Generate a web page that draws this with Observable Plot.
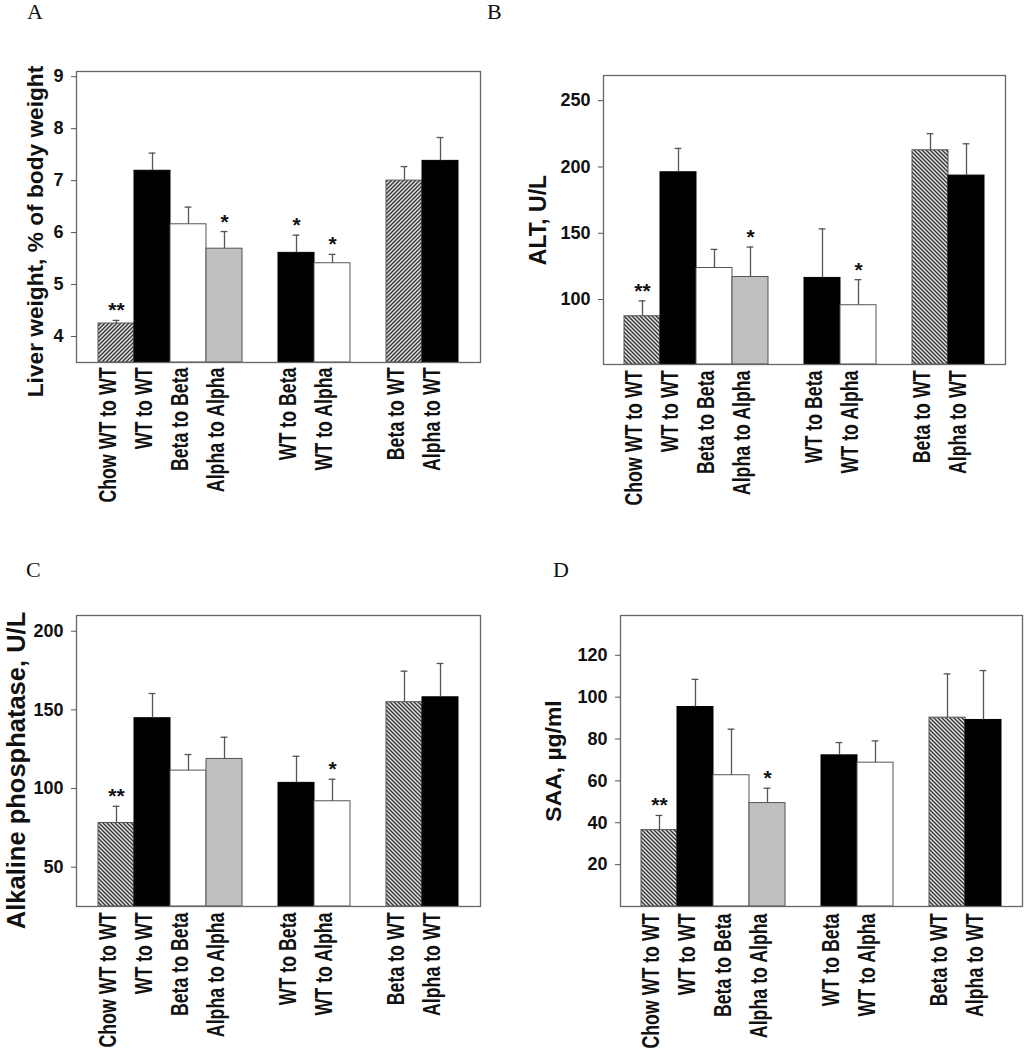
<!DOCTYPE html>
<html>
<head>
<meta charset="utf-8">
<script src="https://cdn.jsdelivr.net/npm/d3@7"></script>
<script src="https://cdn.jsdelivr.net/npm/@observablehq/plot@0.6"></script>
<style>
  html, body { margin: 0; padding: 0; background: #fff; }
  #root { position: relative; width: 1026px; height: 1050px; background: #fff; overflow: hidden; }
  .panel { position: absolute; }
  .letter { position: absolute; font-family: "Liberation Serif", "Times New Roman", serif; font-size: 22px; line-height: 20px; color: #111; }
</style>
</head>
<body>
<div id="root">
  <svg width="0" height="0" style="position:absolute">
    <defs>
      <pattern id="hatchUp" patternUnits="userSpaceOnUse" width="4" height="4">
        <rect width="4" height="4" fill="#e0e0e0"></rect>
        <path d="M-1,1 l2,-2 M0,4 l4,-4 M3,5 l2,-2" stroke="#333" stroke-width="1.3"></path>
      </pattern>
      <pattern id="hatchDown" patternUnits="userSpaceOnUse" width="4" height="4">
        <rect width="4" height="4" fill="#e0e0e0"></rect>
        <path d="M-1,3 l2,2 M0,0 l4,4 M3,-1 l2,2" stroke="#333" stroke-width="1.3"></path>
      </pattern>
    </defs>
  </svg>
  <div class="letter" style="left:27px; top:2px;">A</div>
  <div class="letter" style="left:487px; top:2px;">B</div>
  <div class="letter" style="left:26px; top:560px;">C</div>
  <div class="letter" style="left:553px; top:560px;">D</div>
</div>
<script>
// ---------- data ----------
const categories = ["Chow WT to WT", "WT to WT", "Beta to Beta", "Alpha to Alpha",
                    "WT to Beta", "WT to Alpha", "Beta to WT", "Alpha to WT"];

const liverWeight    = [4.25, 7.19, 6.16, 5.69, 5.61, 5.41, 7.00, 7.38];
const liverWeightErr = [0.06, 0.34, 0.33, 0.33, 0.34, 0.17, 0.27, 0.45];
const liverWeightSig = ["**", "", "", "*", "*", "*", "", ""];
const liverWeightTicks = [4, 5, 6, 7, 8, 9];

const alt    = [87.4, 196.0, 123.8, 117.0, 116.3, 95.7, 212.6, 193.5];
const altErr = [11.6, 18.0, 14.0, 22.6, 37.0, 19.3, 12.5, 24.0];
const altSig = ["**", "", "", "*", "", "*", "", ""];
const altTicks = [100, 150, 200, 250];

const alp    = [78.1, 144.7, 111.4, 118.8, 103.6, 91.9, 154.9, 158.0];
const alpErr = [10.6, 15.7, 10.2, 13.8, 16.9, 14.0, 19.7, 21.5];
const alpSig = ["**", "", "", "", "", "*", "", ""];
const alpTicks = [50, 100, 150, 200];

const saa    = [36.5, 95.3, 62.7, 49.4, 72.2, 68.7, 90.2, 89.1];
const saaErr = [7.0, 13.2, 22.0, 7.1, 6.1, 10.4, 20.9, 23.6];
const saaSig = ["**", "", "", "*", "", "", "", ""];
const saaTicks = [20, 40, 60, 80, 100, 120];

// ---------- styles (not data) ----------
const gapA = "gap-1", gapB = "gap-2";
const xDomain = [...categories.slice(0, 4), gapA, ...categories.slice(4, 6), gapB, ...categories.slice(6)];
const fillKind = ["hatch", "black", "white", "gray", "black", "white", "hatch", "black"];
const ink = "#555";

function panel({values, errors, sig, ticks, yDomain, title, titleSize, titleDx, titleDy, hatch,
                left, top, width, height, margins, labelDy}) {
  const data = categories.map((c, i) => ({cat: c, v: values[i], e: errors[i], s: sig[i], k: fillKind[i]}));
  const fillOf = d => d.k === "hatch" ? `url(#${hatch})` : d.k === "black" ? "#000" : d.k === "gray" ? "#c0c0c0" : "#fff";
  const strokeOf = d => d.k === "black" ? "#000" : ink;
  const y0 = yDomain[0];
  const chart = Plot.plot({
    width, height,
    marginLeft: margins[0], marginRight: margins[1], marginTop: margins[2], marginBottom: margins[3],
    style: {fontFamily: "'Liberation Sans', Arial, sans-serif", fontWeight: "bold", fontSize: "18px", color: "#111", background: "transparent"},
    x: {type: "band", domain: xDomain, paddingInner: 0, paddingOuter: 0.5, axis: null},
    y: {domain: yDomain},
    marks: [
      Plot.barY(data, {x: "cat", y1: () => y0, y2: "v", fill: fillOf, stroke: strokeOf, strokeWidth: 1, inset: 0}),
      Plot.ruleX(data, {x: "cat", y1: "v", y2: d => d.v + d.e, stroke: ink, strokeWidth: 1.3}),
      Plot.tickY(data, {x: "cat", y: d => d.v + d.e, stroke: ink, strokeWidth: 1.3, insetLeft: 14.6, insetRight: 14.6}),
      Plot.text(data.filter(d => d.s), {x: "cat", y: d => d.v + d.e, text: "s", lineAnchor: "bottom", dy: -3, fontSize: 21, fontWeight: "bold", fill: "#111"}),
      Plot.frame({stroke: "#666", strokeWidth: 1.3}),
      Plot.axisY({ticks, tickFormat: d => String(d), tickSize: 5, tickPadding: 8, label: null, stroke: ink, fontSize: 18, fontWeight: "bold"}),
      Plot.text(data, {x: "cat", frameAnchor: "bottom", text: "cat", rotate: -90, textAnchor: "end", lineAnchor: "middle",
                       dx: -8, dy: labelDy, fontSize: 24, fontWeight: "bold", fill: "#111"}),
      Plot.text([title], {frameAnchor: "left", text: d => d, rotate: -90, textAnchor: "middle", lineAnchor: "middle",
                          dx: titleDx, dy: titleDy, fontSize: titleSize, fontWeight: "bold", fill: "#111"})
    ]
  });
  // condense the rotated category labels along their length, as in the reference
  chart.querySelectorAll("text").forEach(t => {
    const tr = t.getAttribute("transform") || "";
    if (categories.includes(t.textContent) && tr.includes("rotate")) {
      t.setAttribute("transform", tr + " scale(0.74,1)");
    }
  });
  chart.classList.add("panel");
  chart.style.left = left + "px";
  chart.style.top = top + "px";
  chart.style.position = "absolute";
  chart.style.overflow = "visible";
  document.getElementById("root").appendChild(chart);
}

panel({values: liverWeight, errors: liverWeightErr, sig: liverWeightSig, ticks: liverWeightTicks,
       yDomain: [3.5, 9.1], title: "Liver weight, % of body weight", titleSize: 22.7, titleDx: -41, titleDy: 14.5,
       hatch: "hatchUp", left: 0, top: 0, width: 500, height: 520, margins: [76, 20, 71, 158], labelDy: 5});

panel({values: alt, errors: altErr, sig: altSig, ticks: altTicks,
       yDomain: [51, 269], title: "ALT, U/L", titleSize: 23, titleDx: -65, titleDy: 0,
       hatch: "hatchDown", left: 500, top: 0, width: 526, height: 520, margins: [103, 21, 75, 156], labelDy: 6});

panel({values: alp, errors: alpErr, sig: alpSig, ticks: alpTicks,
       yDomain: [25, 210], title: "Alkaline phosphatase, U/L", titleSize: 25.5, titleDx: -60, titleDy: 9.5,
       hatch: "hatchDown", left: 0, top: 540, width: 500, height: 510, margins: [76, 20, 75, 144], labelDy: 6});

panel({values: saa, errors: saaErr, sig: saaSig, ticks: saaTicks,
       yDomain: [0, 139], title: "SAA, µg/ml", titleSize: 22.9, titleDx: -67, titleDy: 0,
       hatch: "hatchDown", left: 500, top: 540, width: 526, height: 510, margins: [120, 4, 75, 144], labelDy: 7});
</script>
</body>
</html>
